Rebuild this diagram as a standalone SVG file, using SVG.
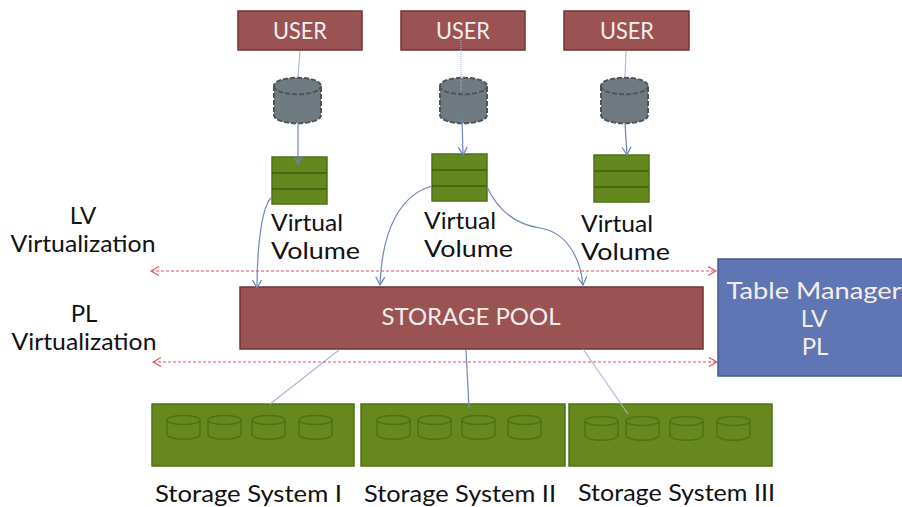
<svg xmlns="http://www.w3.org/2000/svg" width="902" height="507" viewBox="0 0 902 507">
<defs>
<marker id="ab" markerWidth="12" markerHeight="12" refX="9" refY="5" orient="auto" markerUnits="userSpaceOnUse"><path d="M1,0.5 L9,5 L1,9.5" fill="none" stroke="#6c80b8" stroke-width="1.2"/></marker>
<marker id="ar" markerWidth="12" markerHeight="12" refX="9" refY="5" orient="auto-start-reverse" markerUnits="userSpaceOnUse"><path d="M1,0.5 L9,5 L1,9.5" fill="none" stroke="#e0505a" stroke-width="1.1"/></marker>
<g id="disk"><path d="M0,5 V19 C0,26 33,26 33,19 V5" fill="none" stroke="#4e7314" stroke-width="1.5"/><ellipse cx="16.5" cy="5" rx="16.5" ry="4.5" fill="none" stroke="#4e7314" stroke-width="1.5"/></g>
<g id="can"><path d="M0,9 V38 C0,49 47,49 47,38 V9 C47,-2 0,-2 0,9 Z" fill="#6f7b80" stroke="#4c5659" stroke-width="2" stroke-dasharray="5 2"/><path d="M0,9 C0,20 47,20 47,9" fill="none" stroke="#4c5659" stroke-width="2" stroke-dasharray="5 2"/></g>
<g id="stack"><rect x="0" y="0" width="55" height="47" fill="#64871e" stroke="#4e7314" stroke-width="1.5"/><path d="M0,16 H55 M0,32 H55" stroke="#3f5f10" stroke-width="1.5" fill="none"/></g>
</defs>
<style>
text{font-family:"Lato","Liberation Sans",sans-serif}
.u{fill:#9a5253;stroke:#6f3536;stroke-width:1.5}
.s{fill:#66881f;stroke:#4e7314;stroke-width:1.5}
.w{fill:#f4eeee;text-anchor:middle}
.k{fill:#111;font-size:24px}
.c{fill:none;stroke:#7286bd;stroke-width:1.2}
.f{fill:none;stroke:#a9b4d6;stroke-width:1.1}
.r{fill:none;stroke:#e0505a;stroke-width:1;stroke-dasharray:3 2}
</style>
<g id="user1"><rect class="u" x="238" y="11" width="124" height="39"/><text class="w" x="300" y="39" font-size="23" textLength="54" lengthAdjust="spacingAndGlyphs">USER</text></g>
<g id="user2"><rect class="u" x="401" y="11" width="124" height="39"/><text class="w" x="463" y="39" font-size="23" textLength="54" lengthAdjust="spacingAndGlyphs">USER</text></g>
<g id="user3"><rect class="u" x="564" y="11" width="125" height="39"/><text class="w" x="627" y="39" font-size="23" textLength="54" lengthAdjust="spacingAndGlyphs">USER</text></g>
<g id="cyl1"><use href="#can" x="274" y="77"/></g>
<g id="cyl2"><use href="#can" x="440" y="77"/></g>
<g id="cyl3"><use href="#can" x="601" y="77"/></g>
<g id="vol1"><use href="#stack" x="272" y="157"/><text class="k" x="271" y="231" textLength="72" lengthAdjust="spacingAndGlyphs">Virtual</text><text class="k" x="271" y="259" textLength="89" lengthAdjust="spacingAndGlyphs">Volume</text></g>
<g id="vol2"><use href="#stack" x="432" y="154"/><text class="k" x="424" y="229" textLength="72" lengthAdjust="spacingAndGlyphs">Virtual</text><text class="k" x="424" y="257" textLength="89" lengthAdjust="spacingAndGlyphs">Volume</text></g>
<g id="vol3"><use href="#stack" x="594" y="155"/><text class="k" x="581" y="232" textLength="72" lengthAdjust="spacingAndGlyphs">Virtual</text><text class="k" x="581" y="260" textLength="89" lengthAdjust="spacingAndGlyphs">Volume</text></g>
<g id="lv-label"><text class="k" x="83" y="224" text-anchor="middle">LV</text><text class="k" x="83" y="252" text-anchor="middle" textLength="145" lengthAdjust="spacingAndGlyphs">Virtualization</text></g>
<g id="pl-label"><text class="k" x="84" y="322" text-anchor="middle">PL</text><text class="k" x="84" y="350" text-anchor="middle" textLength="145" lengthAdjust="spacingAndGlyphs">Virtualization</text></g>
<g id="pool"><rect class="u" x="240" y="287" width="463" height="62"/><text class="w" x="471" y="325" font-size="23" textLength="179" lengthAdjust="spacingAndGlyphs">STORAGE POOL</text></g>
<g id="table"><rect x="718" y="259" width="190" height="117" fill="#5f75b4" stroke="#46598f" stroke-width="1.5"/><text class="w" x="814" y="299" font-size="24" textLength="175" lengthAdjust="spacingAndGlyphs">Table Manager</text><text class="w" x="814" y="327" font-size="24">LV</text><text class="w" x="815" y="355" font-size="24">PL</text></g>
<g id="sys1"><rect class="s" x="152" y="404" width="202" height="62"/><use href="#disk" x="167" y="415"/><use href="#disk" x="208" y="415"/><use href="#disk" x="252" y="415"/><use href="#disk" x="299" y="415"/><text class="k" x="155" y="502" textLength="187" lengthAdjust="spacingAndGlyphs">Storage System I</text></g>
<g id="sys2"><rect class="s" x="361" y="404" width="204" height="62"/><use href="#disk" x="377" y="415"/><use href="#disk" x="418" y="415"/><use href="#disk" x="462" y="415"/><use href="#disk" x="508" y="415"/><text class="k" x="364" y="502" textLength="192" lengthAdjust="spacingAndGlyphs">Storage System II</text></g>
<g id="sys3"><rect class="s" x="569" y="404" width="203" height="62"/><use href="#disk" x="585" y="416"/><use href="#disk" x="626" y="416"/><use href="#disk" x="670" y="416"/><use href="#disk" x="717" y="416"/><text class="k" x="578" y="501" textLength="197" lengthAdjust="spacingAndGlyphs">Storage System III</text></g>
<g id="connectors">
<path class="f" d="M300,51 L298,77"/>
<path class="f" d="M461,40 V92" stroke-dasharray="1 1"/>
<path class="f" d="M626,51 L625,77"/>
<path class="c" d="M298,122 V164" marker-end="url(#ab)"/>
<path class="c" d="M462,118 L463,155" marker-end="url(#ab)"/>
<path class="c" d="M625,123 L627,155" marker-end="url(#ab)"/>
<path class="c" d="M272,197 C262,205 257,245 257,288" marker-end="url(#ab)"/>
<path class="c" d="M432,186 C400,195 382,230 380,285" marker-end="url(#ab)"/>
<path class="c" d="M487,187 C500,215 520,225 540,228 C565,232 580,255 583,285" marker-end="url(#ab)"/>
<path class="f" d="M339,350 L270,404"/>
<path class="c" d="M466,350 L469,408"/>
<path class="f" d="M583,349 L628,414"/>
<path class="r" d="M151,271 H716" marker-start="url(#ar)" marker-end="url(#ar)"/>
<path class="r" d="M153,362 H717" marker-start="url(#ar)" marker-end="url(#ar)"/>
</g>
</svg>
